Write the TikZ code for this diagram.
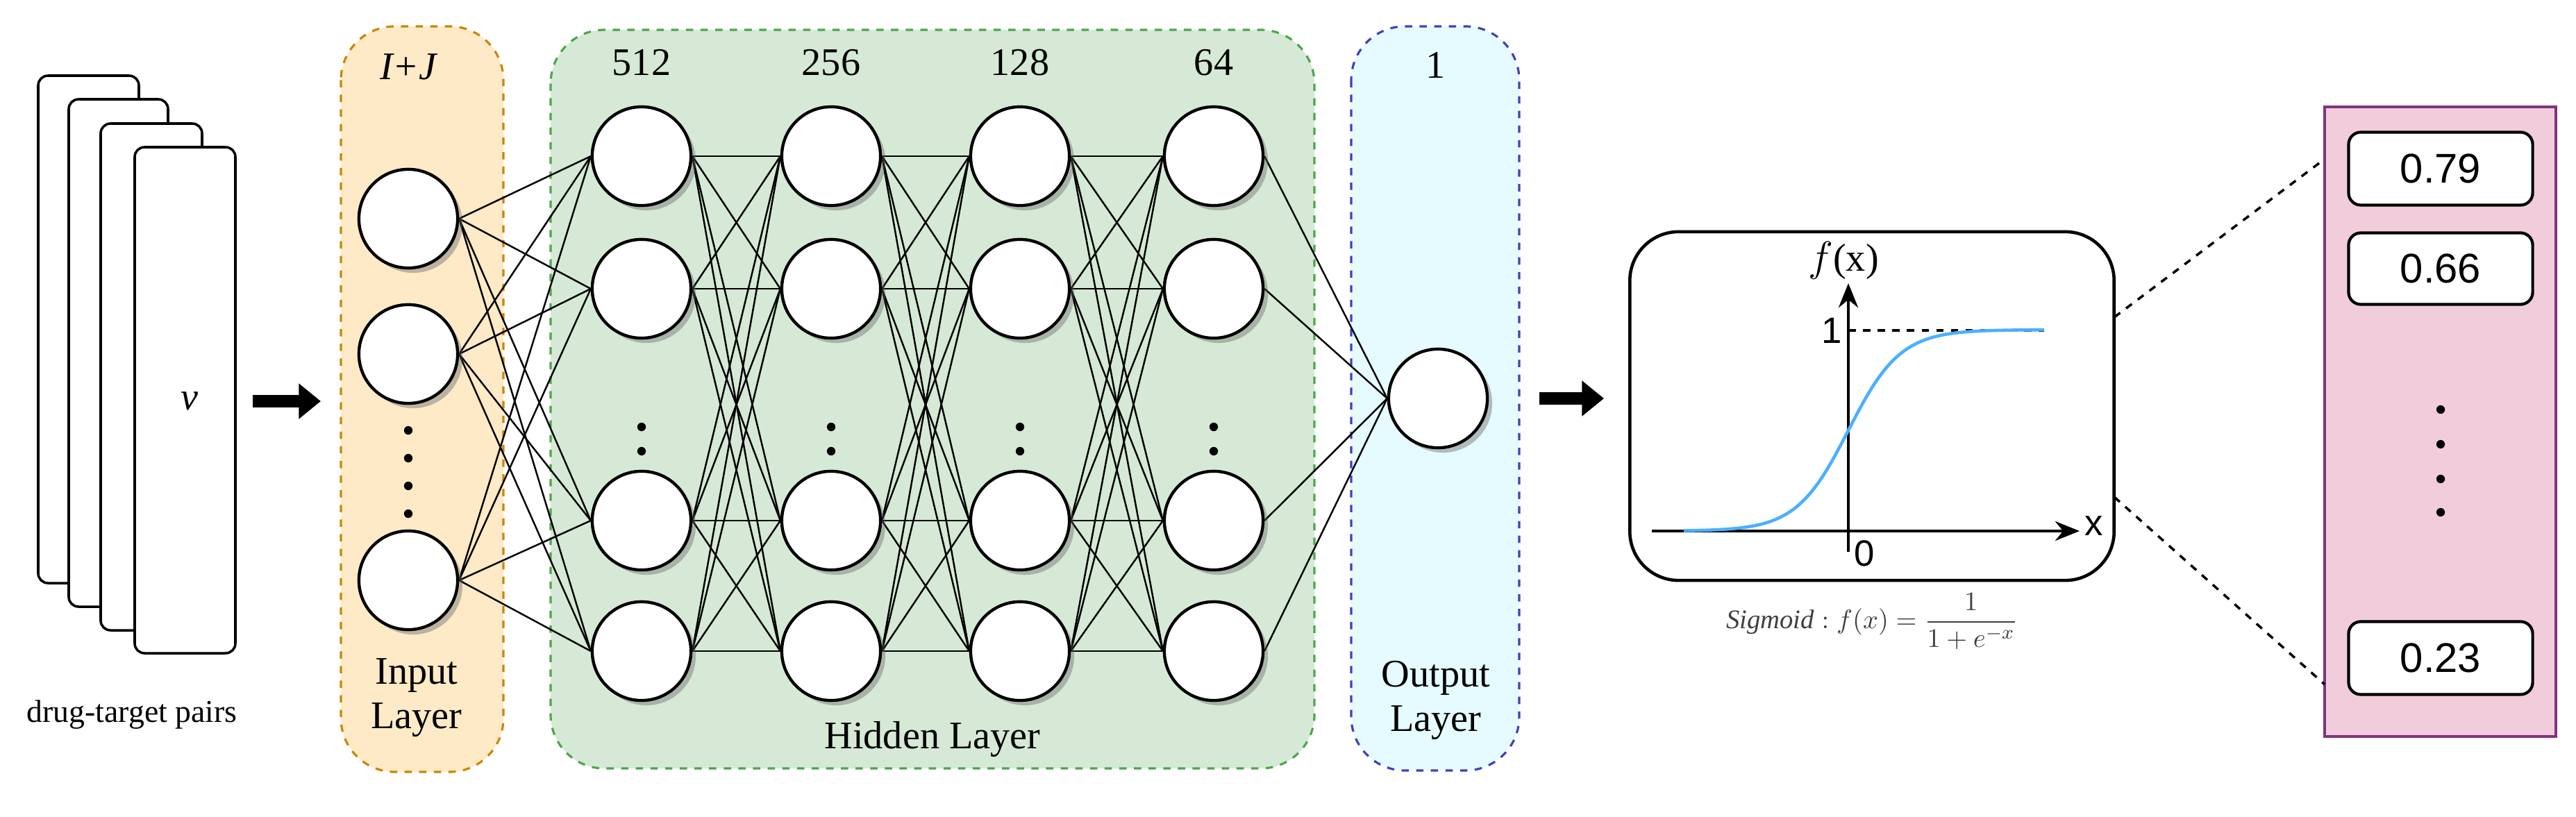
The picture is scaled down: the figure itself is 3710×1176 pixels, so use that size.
\documentclass[tikz,border=0pt]{standalone}
\usepackage{fontspec}
\setmainfont{Liberation Serif}
\newfontfamily\sansf{Liberation Sans}
\usetikzlibrary{arrows.meta,shadows}
\begin{document}
\begin{tikzpicture}[x=0.01cm,y=-0.01cm,
  neuron/.style={circle,draw,line width=1.2pt,fill=white,minimum size=1.42cm,inner sep=0,drop shadow={shadow xshift=2pt,shadow yshift=-2pt,opacity=0.3}},
  paper/.style={draw,line width=1pt,fill=white,rounded corners=4pt},
  layerbox/.style={dashed,line width=0.9pt,rounded corners=22pt},
  conn/.style={line width=0.7pt},
  bigarrow/.style={-{Triangle[length=9pt,width=14pt]},line width=5pt},
  lbl/.style={font=\fontsize{16}{18}\selectfont},
  valbox/.style={draw,line width=1.2pt,rounded corners=5pt,fill=white,font=\sansf\fontsize{17}{19}\selectfont},
  dot/.style={circle,fill=black,inner sep=0,minimum size=3.5pt}]
\useasboundingbox (0,0) rectangle (3710,1176);
% papers
\draw[paper] (55,109) rectangle (200,840);
\draw[paper] (99,143) rectangle (242,874);
\draw[paper] (145,178) rectangle (291,908);
\draw[paper] (194,212) rectangle (339,941);
\node[font=\itshape\fontsize{16}{18}\selectfont] (v) at (273,578) {v};
\node[font=\fontsize{13}{15}\selectfont] (dtp) at (190,1030) {drug-target pairs};
\coordinate (a1s) at (364,578); \coordinate (a1e) at (462,578);
\draw[bigarrow] (a1s) -- (a1e);
% layer boxes
\draw[layerbox,draw=orange!70!yellow!80!black,fill=yellow!25!orange!20] (491,38) rectangle (725,1112);
\draw[layerbox,draw=green!50!black!70,fill=green!30!gray!25] (793,43) rectangle (1893,1107);
\draw[layerbox,draw=blue!50!gray,fill=blue!15!cyan!10] (1946,38) rectangle (2188,1110);
\node[font=\itshape\fontsize{16}{18}\selectfont] (ij) at (588,96) {I+J};
\node[lbl,align=center] (inl) at (600,1005) {Input\\Layer};
\node[lbl] (hl) at (1343,1065) {Hidden Layer};
\node[lbl] (one) at (2068,94) {1};
\node[lbl,align=center] (outl) at (2068,1009) {Output\\Layer};
% input neurons
\foreach \i/\y in {1/315,2/510,3/836} \node[neuron] (i\i) at (588,\y) {};
% hidden neurons
\foreach \c/\x/\t in {1/924/512,2/1197/256,3/1469/128,4/1748/64}{
  \node[lbl] (t\c) at (\x,90) {\t};
  \foreach \r/\y in {1/225,2/416,3/750,4/938} \node[neuron] (h\c\r) at (\x,\y) {};
  \foreach \yy in {615,650,685,720} \node[dot] at (\x,\yy) {};
}
\foreach \yy in {620,660,700,740} \node[dot] at (588,\yy) {};
\node[neuron] (o) at (2071,574) {};
% connections
\foreach \i in {1,2,3} \foreach \r in {1,2,3,4} \draw[conn] (i\i.east) -- (h1\r.west);
\foreach \c/\n in {1/2,2/3,3/4} \foreach \r in {1,2,3,4} \foreach \s in {1,2,3,4} \draw[conn] (h\c\r.east) -- (h\n\s.west);
\foreach \r in {1,2,3,4} \draw[conn] (h4\r.east) -- (o.west);
\foreach \y in {315,510,836} \node[neuron] at (588,\y) {};
\foreach \x in {924,1197,1469,1748} \foreach \y in {225,416,750,938} \node[neuron] at (\x,\y) {};
\node[neuron] at (2071,574) {};
\coordinate (a2s) at (2217,574); \coordinate (a2e) at (2310,574);
\draw[bigarrow] (a2s) -- (a2e);
% sigmoid box
\node[draw,line width=1.3pt,rounded corners=20pt,minimum width=6.97cm,minimum height=5.02cm] (sig) at (2696,585) {};
\coordinate (xs) at (2379,765); \coordinate (xe) at (2995,765);
\coordinate (ys) at (2662,795); \coordinate (ye) at (2662,408);
\draw[line width=1.2pt,-{Stealth[length=10pt,width=8pt]}] (xs) -- (xe);
\draw[line width=1.2pt,-{Stealth[length=10pt,width=8pt]}] (ys) -- (ye);
\draw[dashed,line width=1pt] (2662,476) -- (2944,476);
\draw[color=blue!45!cyan!70,line width=1.3pt,domain=2425:2944,samples=80,smooth] plot (\x,{620-145*tanh((\x-2662)/75)});
\node[font=\sansf\fontsize{15}{17}\selectfont] (xl) at (3016,758) {x};
\node[font=\fontsize{16}{18}\selectfont] (fx) at (2655,375) {$f$(x)};
\node[font=\sansf\fontsize{15}{17}\selectfont] (y1) at (2638,476) {1};
\node[font=\sansf\fontsize{15}{17}\selectfont] (y0) at (2685,797) {0};
\node[font=\fontsize{11}{13}\selectfont,text=black!75] (form) at (2696,895) {$\displaystyle\mathit{Sigmoid}:f(x)=\frac{1}{1+e^{-x}}$};
% outputs
\draw[line width=1.2pt,draw=violet!60!gray,fill=violet!25!pink!45] (3348,154) rectangle (3681,1061);
\node[valbox,minimum width=2.65cm,minimum height=1.05cm] (v1) at (3515,243) {0.79};
\node[valbox,minimum width=2.65cm,minimum height=1.03cm] (v2) at (3515,387) {0.66};
\node[valbox,minimum width=2.65cm,minimum height=1.05cm] (v3) at (3515,948) {0.23};
\foreach \yy in {590,640,690,738} \node[dot] at (3515,\yy) {};
\coordinate (p1) at (3348,229); \coordinate (p2) at (3348,986);
\draw[dashed,line width=1pt] (3045,457) -- (p1);
\draw[dashed,line width=1pt] (3045,716) -- (p2);
\end{tikzpicture}
\end{document}
